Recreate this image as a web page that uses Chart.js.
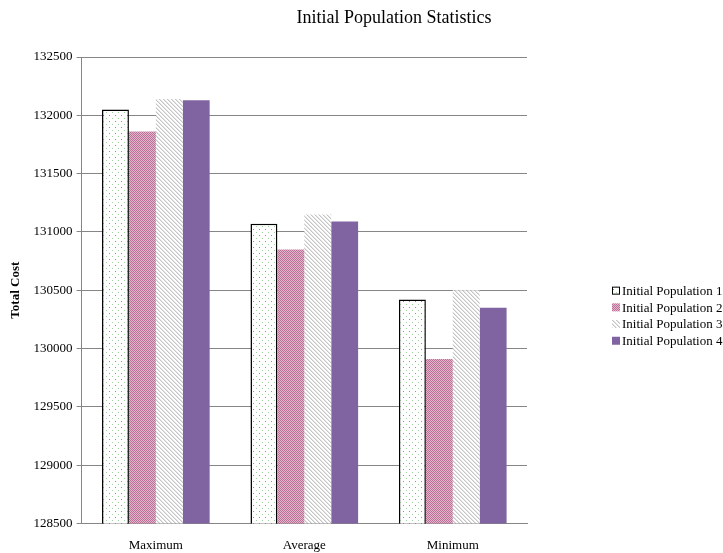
<!DOCTYPE html>
<html>
<head>
<meta charset="utf-8">
<script src="https://cdn.jsdelivr.net/npm/chart.js@4/dist/chart.umd.min.js"></script>
<style>
  html, body { margin: 0; padding: 0; background: #ffffff; }
  #wrap { width: 723px; height: 553px; }
</style>
</head>
<body>
<div id="wrap"><canvas id="c" width="723" height="553"></canvas></div>
<script>
// Chart data
const categories = ['Maximum', 'Average', 'Minimum'];
const seriesNames = ['Initial Population 1', 'Initial Population 2', 'Initial Population 3', 'Initial Population 4'];
const pop1 = [132050, 131070, 130420];
const pop2 = [131860, 130850, 129910];
const pop3 = [132140, 131150, 130500];
const pop4 = [132130, 131090, 130350];
const yTicks = [128500, 129000, 129500, 130000, 130500, 131000, 131500, 132000, 132500];

const FONT = "'Liberation Serif', 'Times New Roman', serif";

// Fill patterns
function makePattern(w, h, draw) {
  const cv = document.createElement('canvas');
  cv.width = w; cv.height = h;
  const g = cv.getContext('2d');
  draw(g);
  return g.createPattern(cv, 'repeat');
}
const dotted = makePattern(6, 6, g => {
  g.fillStyle = '#ffffff'; g.fillRect(0, 0, 6, 6);
  g.fillStyle = '#5cb85c'; g.fillRect(1, 1, 1, 1);
  g.fillStyle = '#9ed49e'; g.fillRect(4, 4, 1, 1);
});
const checker = makePattern(2, 2, g => {
  g.fillStyle = '#e2b4ca'; g.fillRect(0, 0, 2, 2);
  g.fillStyle = '#bc7298'; g.fillRect(0, 0, 1, 1); g.fillRect(1, 1, 1, 1);
});
const hatch = makePattern(4, 4, g => {
  g.fillStyle = '#ffffff'; g.fillRect(0, 0, 4, 4);
  g.fillStyle = '#c4c4c4';
  for (let i = 0; i < 4; i++) g.fillRect(i, i, 1, 1);
  g.fillStyle = '#e4e4e4';
  for (let i = 0; i < 4; i++) g.fillRect((i + 1) % 4, i, 1, 1);
});
const purple = '#8064a2';

const fills = [dotted, checker, hatch, purple];
const borders = ['#000000', 'rgba(0,0,0,0)', 'rgba(0,0,0,0)', purple];
const borderW = [1.5, 0, 0, 0];
const values = [pop1, pop2, pop3, pop4];

// Title drawn above the plot
const titlePlugin = {
  id: 'topTitle',
  afterDraw(chart) {
    const ctx = chart.ctx;
    ctx.save();
    ctx.font = '18px ' + FONT;
    ctx.fillStyle = '#000000';
    ctx.textAlign = 'center';
    ctx.textBaseline = 'middle';
    ctx.fillText('Initial Population Statistics', 394, 18);
    ctx.restore();
  }
};

// Legend drawn to the right of the plot
const sideLegend = {
  id: 'sideLegend',
  afterDraw(chart) {
    const ctx = chart.ctx;
    const x0 = 612;
    const rowH = 16.7;
    const n = chart.data.datasets.length;
    const yMid = (chart.chartArea.top + chart.chartArea.bottom) / 2 + 25.5;
    const yStart = yMid - (n - 1) * rowH / 2;
    ctx.save();
    ctx.font = '13px ' + FONT;
    ctx.textBaseline = 'middle';
    ctx.textAlign = 'left';
    chart.data.datasets.forEach((ds, i) => {
      const y = yStart + i * rowH;
      ctx.fillStyle = ds.backgroundColor;
      ctx.fillRect(x0, y - 4, 8, 8);
      if (ds.borderWidth > 0) {
        ctx.strokeStyle = '#000000';
        ctx.lineWidth = 1;
        ctx.strokeRect(x0 + 0.5, y - 3.5, 7, 7);
      }
      ctx.fillStyle = '#000000';
      ctx.fillText(ds.label, x0 + 10, y + 1);
    });
    ctx.restore();
  }
};

new Chart(document.getElementById('c'), {
  type: 'bar',
  data: {
    labels: categories,
    datasets: seriesNames.map((name, i) => ({
      label: name,
      data: values[i],
      backgroundColor: fills[i],
      borderColor: borders[i],
      borderWidth: borderW[i],
      borderSkipped: 'bottom',
      categoryPercentage: 0.725,
      barPercentage: 1.0
    }))
  },
  options: {
    responsive: false,
    animation: false,
    layout: { padding: { top: 57, right: 196, left: 8, bottom: -14 } },
    plugins: {
      legend: { display: false },
      title: { display: false },
      tooltip: { enabled: false }
    },
    scales: {
      x: {
        grid: { display: false, drawTicks: false },
        border: { color: '#868686', width: 1 },
        ticks: { color: '#000000', font: { family: FONT, size: 13 }, padding: 14 }
      },
      y: {
        min: yTicks[0],
        max: yTicks[yTicks.length - 1],
        afterBuildTicks(scale) { scale.ticks = yTicks.map(v => ({ value: v })); },
        grid: { color: '#868686', lineWidth: 1, tickLength: 5, drawTicks: true },
        border: { color: '#868686', width: 1 },
        ticks: {
          color: '#000000',
          font: { family: FONT, size: 13 },
          padding: 4,
          callback: v => String(v)
        },
        title: {
          display: true,
          text: 'Total Cost',
          color: '#000000',
          font: { family: FONT, size: 13, weight: 'bold' },
          padding: { top: 0, bottom: 6 }
        }
      }
    }
  },
  plugins: [titlePlugin, sideLegend]
});
</script>
</body>
</html>
